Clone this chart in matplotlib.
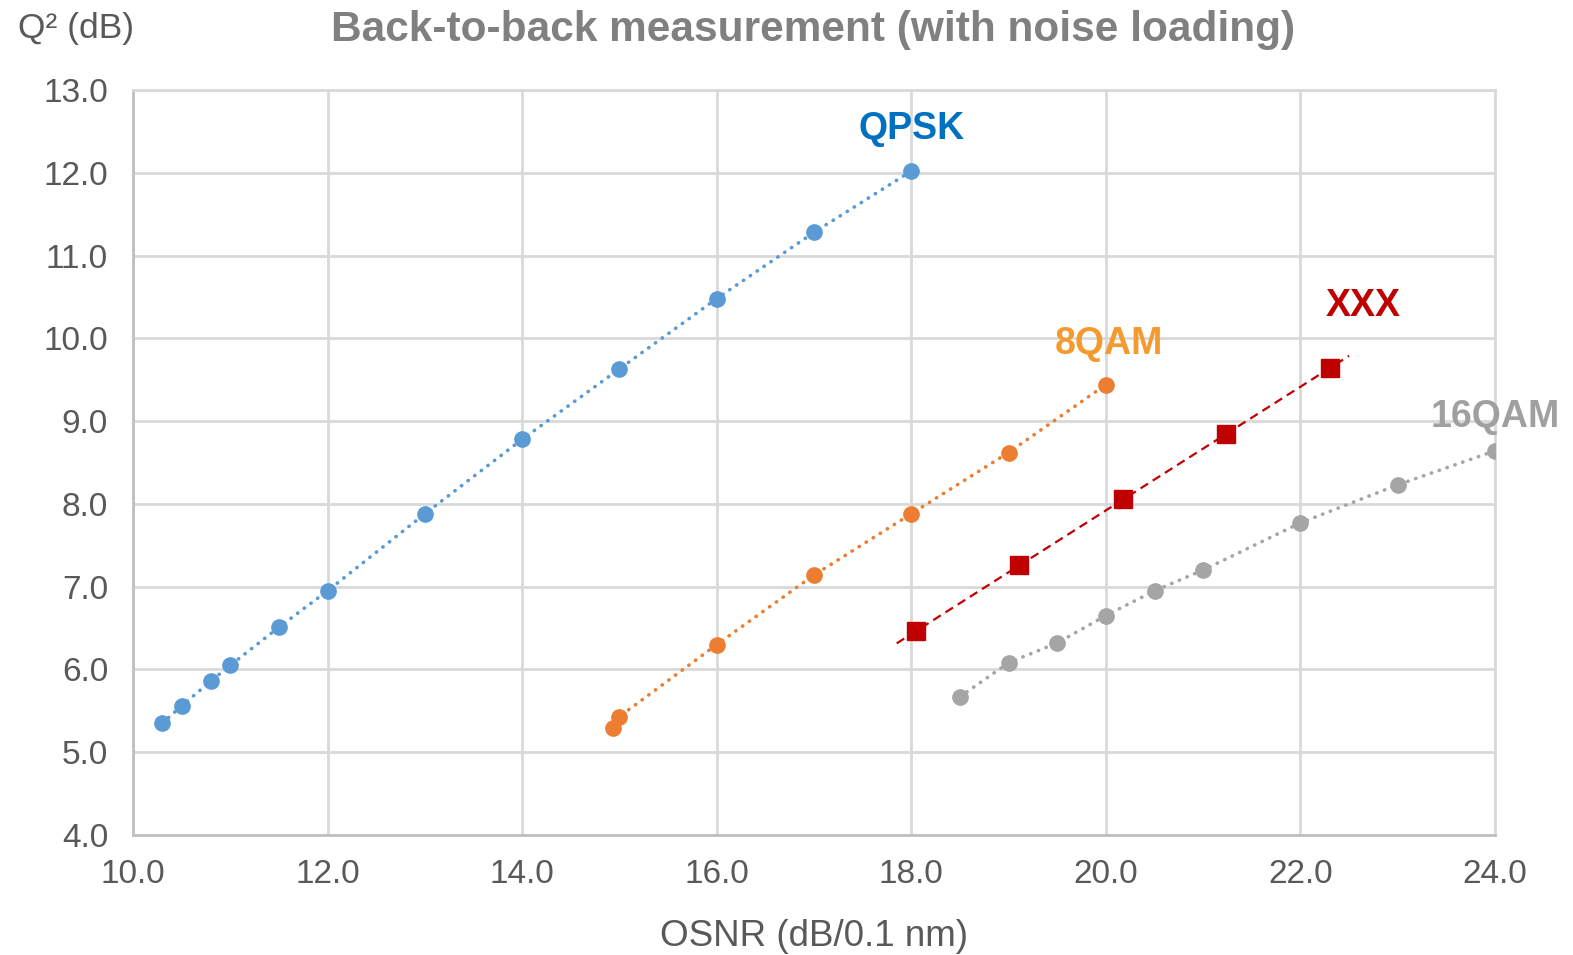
import matplotlib.pyplot as plt
import numpy as np

plt.rcParams['font.family'] = ['Liberation Sans', 'DejaVu Sans']

# Data
qpsk_osnr = [10.3, 10.5, 10.8, 11.0, 11.5, 12.0, 13.0, 14.0, 15.0, 16.0, 17.0, 18.0]
qpsk_q2 = [5.35, 5.56, 5.86, 6.05, 6.51, 6.95, 7.88, 8.78, 9.63, 10.48, 11.28, 12.02]

qam8_osnr = [14.93, 15.0, 16.0, 17.0, 18.0, 19.0, 20.0]
qam8_q2 = [5.29, 5.43, 6.30, 7.14, 7.88, 8.62, 9.44]

xxx_osnr = [18.05, 19.11, 20.18, 21.24, 22.30]
xxx_q2 = [6.46, 7.26, 8.06, 8.84, 9.64]

qam16_osnr = [18.5, 19.0, 19.5, 20.0, 20.5, 21.0, 22.0, 23.0, 24.0]
qam16_q2 = [5.67, 6.08, 6.32, 6.65, 6.95, 7.20, 7.77, 8.23, 8.64]

x_ticks = np.arange(10, 24.1, 2)
y_ticks = np.arange(4, 13.1, 1)

fig = plt.figure(figsize=(15.73, 9.55), dpi=100)
ax = fig.add_axes([0.0846, 0.1257, 0.8658, 0.7801])

dot = (0, (0.1, 2.2))
ax.plot(qpsk_osnr, qpsk_q2, color="#5B9BD5", lw=2.6, ls=dot, dash_capstyle="round", zorder=3)
ax.plot(qpsk_osnr, qpsk_q2, "o", color="#5B9BD5", ms=11, zorder=4)

ax.plot(qam8_osnr, qam8_q2, color="#ED7D31", lw=2.6, ls=dot, dash_capstyle="round", zorder=3)
ax.plot(qam8_osnr, qam8_q2, "o", color="#ED7D31", ms=11, zorder=4)

ax.plot(qam16_osnr, qam16_q2, color="#A5A5A5", lw=2.6, ls=dot, dash_capstyle="round", zorder=3)
ax.plot(qam16_osnr, qam16_q2, "o", color="#A5A5A5", ms=11, zorder=4)

# linear trendline for XXX, extended a little past the points
k, b = np.polyfit(xxx_osnr, xxx_q2, 1)
xt = np.array([17.85, 22.5])
ax.plot(xt, k * xt + b, color="#C00000", lw=1.6, ls=(0, (4, 2.5)), zorder=3)
ax.plot(xxx_osnr, xxx_q2, "s", color="#C00000", ms=13, zorder=4)

ax.text(18.0, 12.53, "QPSK", color="#0070C0", fontsize=27, fontweight="bold", ha="center", va="center")
ax.text(20.03, 9.93, "8QAM", color="#F59A2F", fontsize=27, fontweight="bold", ha="center", va="center")
ax.text(22.64, 10.39, "XXX", color="#C00000", fontsize=27, fontweight="bold", ha="center", va="center")
ax.text(24.0, 9.05, "16QAM", color="#A0A0A0", fontsize=27, fontweight="bold", ha="center", va="center")

ax.set_xlim(10, 24)
ax.set_ylim(4, 13)
ax.set_xticks(x_ticks)
ax.set_yticks(y_ticks)
ax.set_xticklabels([f"{v:.1f}" for v in x_ticks])
ax.set_yticklabels([f"{v:.1f}" for v in y_ticks])
ax.tick_params(axis="both", length=0, labelsize=24, labelcolor="#595959")
ax.tick_params(axis="x", pad=17)
ax.tick_params(axis="y", pad=18)
ax.grid(True, color="#D9D9D9", lw=2)
ax.set_axisbelow(True)
for s in ["top", "right"]:
    ax.spines[s].set_color("#D9D9D9")
    ax.spines[s].set_linewidth(2)
for s in ["left", "bottom"]:
    ax.spines[s].set_color("#BFBFBF")
    ax.spines[s].set_linewidth(2)

ax.set_xlabel("OSNR (dB/0.1 nm)", fontsize=26.5, color="#595959", labelpad=21)
fig.text(0.0115, 0.970, "Q² (dB)", fontsize=25.5, color="#595959", ha="left", va="center")
fig.text(0.517, 0.969, "Back-to-back measurement (with noise loading)", fontsize=30.5,
         fontweight="bold", color="#808080", ha="center", va="center")

plt.savefig("out.png", dpi=100)
